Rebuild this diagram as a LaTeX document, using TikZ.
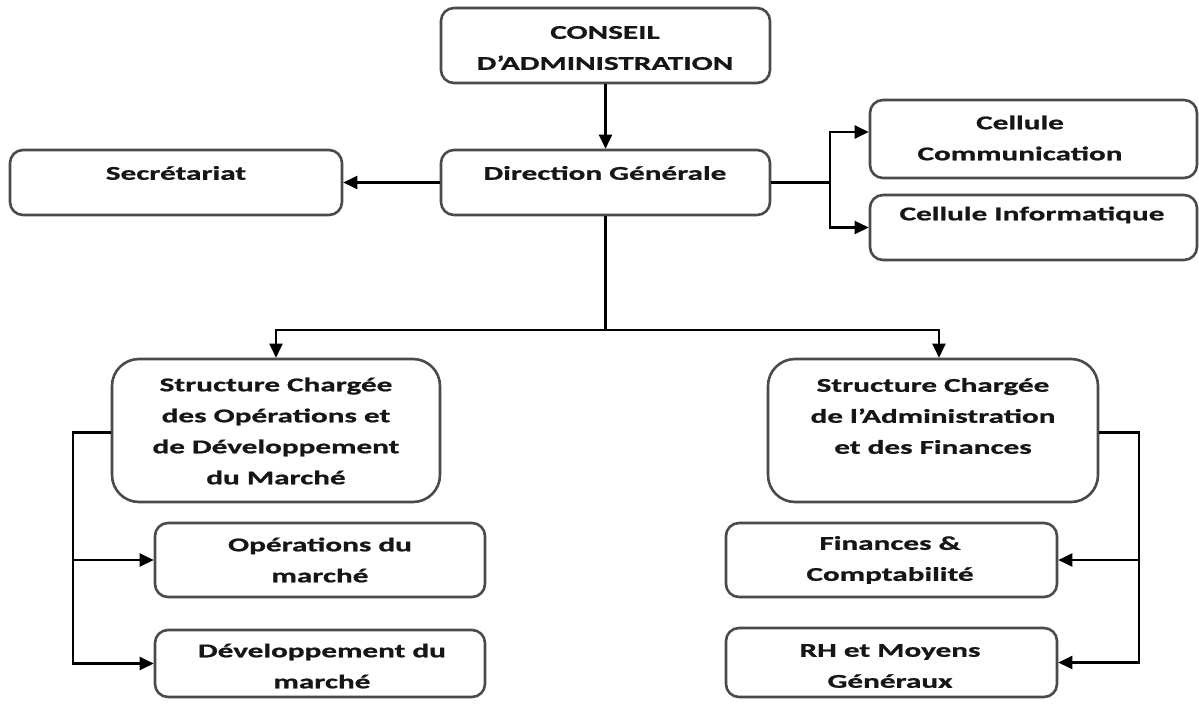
\documentclass[tikz,border=0pt]{standalone}
\usepackage{fontspec}
\setmainfont{Carlito}[FakeStretch=1.6, FakeBold=1]
\usetikzlibrary{arrows.meta}

\definecolor{boxline}{HTML}{4A4A4A}
\definecolor{ink}{HTML}{161616}

\tikzset{
  box/.style={draw=boxline, line width=2.6pt, rounded corners=13pt, fill=white, inner sep=0pt},
  bigbox/.style={box, rounded corners=27pt},
  txt/.style={text=ink, align=center, inner sep=0pt,
    font=\fontsize{19.5}{31}\selectfont\bfseries},
  link/.style={draw=black, line width=2.3pt},
  arr/.style={link, -{Triangle[length=14pt,width=13pt]}}
}

\begin{document}
\begin{tikzpicture}[x=1pt, y=-1pt]
\useasboundingbox (0,0) rectangle (1199,704);

% boxes
\node[box, minimum width=329pt, minimum height=75pt] (conseil) at (605.5,45.5) {};
\node[box, minimum width=329pt, minimum height=65pt] (dg) at (605.5,182.5) {};
\node[box, minimum width=332pt, minimum height=65pt] (sec) at (176,182.5) {};
\node[box, minimum width=327pt, minimum height=78pt] (comm) at (1033.5,139) {};
\node[box, minimum width=327pt, minimum height=65pt] (info) at (1033.5,227.5) {};
\node[bigbox, minimum width=328pt, minimum height=143pt] (sop) at (276,430.5) {};
\node[bigbox, minimum width=330pt, minimum height=143pt] (saf) at (933,430.5) {};
\node[box, minimum width=330pt, minimum height=74pt] (ops) at (320,560) {};
\node[box, minimum width=330pt, minimum height=67pt] (dev) at (320,663.5) {};
\node[box, minimum width=331pt, minimum height=74pt] (fin) at (891.5,560) {};
\node[box, minimum width=331pt, minimum height=69pt] (rh) at (891.5,662.5) {};

% labels
\node[txt] (conseilT) at (605,48) {CONSEIL\\D’ADMINISTRATION};
\node[txt] (dgT) at (605,173) {Direction Générale};
\node[txt] (secT) at (176,173) {Secrétariat};
\node[txt] (commT) at (1020,138) {Cellule\\Communication};
\node[txt] (infoT) at (1032,215) {Cellule Informatique};
\node[txt] (sopT) at (276,431) {Structure Chargée\\des Opérations et\\de Développement\\du Marché};
\node[txt] (safT) at (933,416) {Structure Chargée\\de l’Administration\\et des Finances};
\node[txt] (opsT) at (320,560) {Opérations du\\marché};
\node[txt] (devT) at (322,666) {Développement du\\marché};
\node[txt] (finT) at (890,560) {Finances \&\\Comptabilité};
\node[txt] (rhT) at (890,666) {RH et Moyens\\Généraux};

% junction points
\coordinate (rj) at (830,182.5);
\coordinate (bj) at (605.5,330);
\coordinate (lbus) at (73,0);
\coordinate (rbus) at (1139,0);

% connectors
\draw[arr] (conseil.south) -- (dg.north);
\draw[arr] (dg.west) -- (sec.east);
\draw[link] (dg.east) -- (rj);
\draw[arr] (rj) |- ([yshift=7pt]comm.west);
\draw[arr] (rj) |- (info.west);
\draw[link] (dg.south) -- (bj);
\draw[arr] (bj) -| (sop.north);
\draw[arr] (bj) -| ([xshift=6pt]saf.north);
\draw[arr] ([yshift=-2pt]sop.west) -| (lbus |- ops.west) -- (ops.west);
\draw[arr] ([yshift=-2pt]sop.west) -| (lbus |- dev.west) -- (dev.west);
\draw[arr] ([yshift=-2pt]saf.east) -| (rbus |- fin.east) -- (fin.east);
\draw[arr] ([yshift=-2pt]saf.east) -| (rbus |- rh.east) -- (rh.east);
\end{tikzpicture}
\end{document}
